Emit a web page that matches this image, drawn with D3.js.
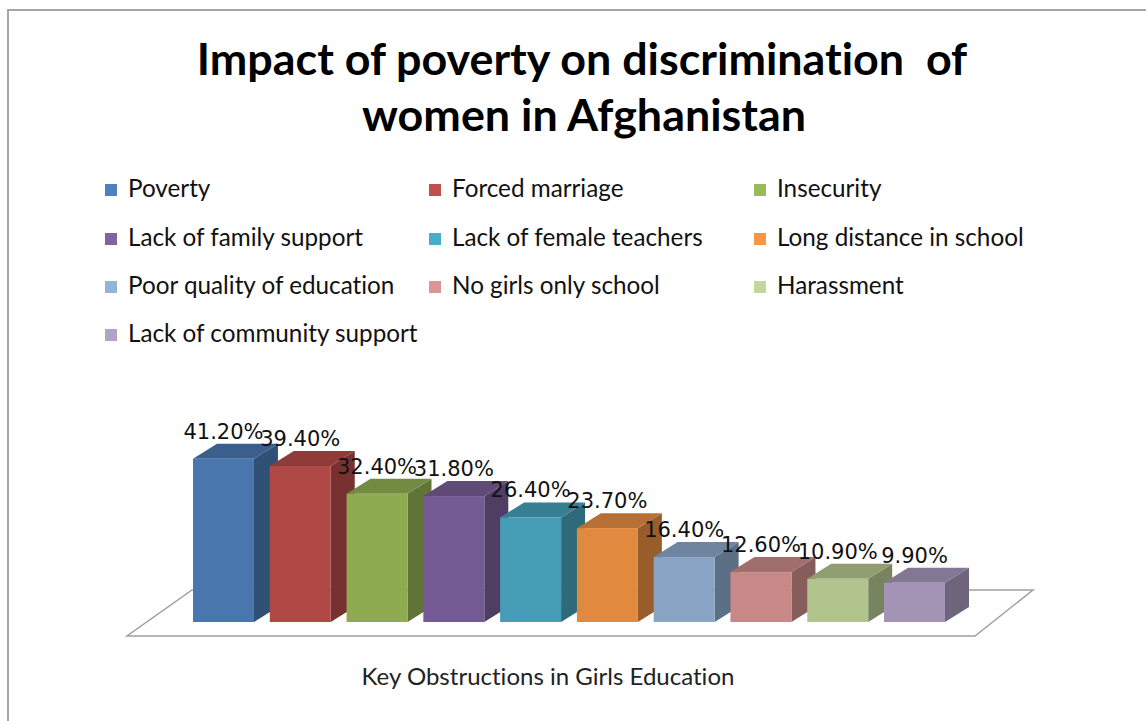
<!DOCTYPE html>
<html>
<head>
<meta charset="utf-8">
<script src="https://cdn.jsdelivr.net/npm/d3@7"></script>
<style>
  html, body { margin: 0; padding: 0; background: #fff; }
  svg { display: block; }
  text { white-space: pre; font-variant-ligatures: none; font-feature-settings: "liga" 0, "clig" 0; }
</style>
</head>
<body>
<svg id="chart" width="1146" height="721"></svg>
<script>
// ---- data ----
const titleLines = ["Impact of poverty on discrimination  of", "women in Afghanistan"];
const categories = ["Poverty", "Forced marriage", "Insecurity", "Lack of family support",
  "Lack of female teachers", "Long distance in school", "Poor quality of education",
  "No girls only school", "Harassment", "Lack of community support"];
const values = [41.2, 39.4, 32.4, 31.8, 26.4, 23.7, 16.4, 12.6, 10.9, 9.9];
const colors = ["#4F81BD", "#C0504D", "#9BBB59", "#8064A2", "#4BACC6",
  "#F79646", "#95B3D7", "#D99694", "#C3D69B", "#B2A2C7"];
const axisTitle = "Key Obstructions in Girls Education";

// ---- layout ----
const svg = d3.select("#chart");
const depthX = 24, depthY = -15;
const baseY = 622;

const x = d3.scaleBand().domain(categories).range([193, 945]).paddingInner(0.206).paddingOuter(0);
const y = d3.scaleLinear().domain([0, 45]).range([baseY, baseY - 45 * 3.96]);

function fit(sel, target) {
  const w = sel.node().getComputedTextLength();
  const fs = parseFloat(sel.attr("font-size"));
  sel.attr("font-size", fs * target / w);
}

// frame
svg.append("rect").attr("x", 8).attr("y", 10).attr("width", 1200).attr("height", 800)
  .attr("fill", "#fff").attr("stroke", "#a6a6a6").attr("stroke-width", 2);

// title
const titleG = svg.append("g");
const t1 = titleG.append("text").attr("x", 582).attr("y", 75).attr("text-anchor", "middle")
  .attr("font-family", "Lato, 'Open Sans', sans-serif").attr("font-weight", "bold")
  .attr("font-size", 40).attr("fill", "#000").text(titleLines[0]);
const t2 = titleG.append("text").attr("x", 584).attr("y", 131).attr("text-anchor", "middle")
  .attr("font-family", "Lato, 'Open Sans', sans-serif").attr("font-weight", "bold")
  .attr("font-size", 40).attr("fill", "#000").text(titleLines[1]);
fit(t2, 444);
t1.attr("font-size", t2.attr("font-size"));

// legend
const colX = [105, 429, 754];
const rowY = [190, 239, 287, 335];
const legend = svg.append("g");
const legItems = legend.selectAll("g").data(categories).join("g")
  .attr("transform", (d, i) => `translate(${colX[i % 3]},${rowY[Math.floor(i / 3)]})`);
legItems.append("rect").attr("x", 0).attr("y", -6).attr("width", 12).attr("height", 12)
  .attr("fill", (d, i) => colors[i]);
const legTexts = legItems.append("text").attr("x", 23).attr("y", 7)
  .attr("font-family", "Lato, 'Open Sans', sans-serif").attr("font-size", 20).attr("fill", "#111")
  .text(d => d);
{
  const ref = legTexts.filter(d => d === "Lack of family support");
  fit(ref, 235);
  legTexts.attr("font-size", ref.attr("font-size"));
}

// floor
const floorPts = [[127, 636], [975, 636], [1033, 590], [192, 590]];
svg.append("polygon").attr("points", floorPts.map(p => p.join(",")).join(" "))
  .attr("fill", "#fff").attr("stroke", "#a0a0a0").attr("stroke-width", 1.5);

// bars
const bars = svg.append("g");
categories.forEach((c, i) => {
  const x0 = x(c), x1 = x0 + x.bandwidth();
  const yt = y(values[i]), yb = y(0);
  const base = d3.color(colors[i]);
  const g = bars.append("g");
  g.append("polygon").attr("points", [[x1, yb], [x1 + depthX, yb + depthY], [x1 + depthX, yt + depthY], [x1, yt]].map(p => p.join(",")).join(" "))
    .attr("fill", base.darker(1.35));
  g.append("polygon").attr("points", [[x0, yt], [x1, yt], [x1 + depthX, yt + depthY], [x0 + depthX, yt + depthY]].map(p => p.join(",")).join(" "))
    .attr("fill", base.darker(0.85));
  g.append("rect").attr("x", x0).attr("y", yt).attr("width", x.bandwidth()).attr("height", yb - yt)
    .attr("fill", base.darker(0.25));
});

// data labels
svg.append("g").selectAll("text").data(categories).join("text")
  .attr("x", d => x(d) + x.bandwidth() / 2)
  .attr("y", (d, i) => y(values[i]) + depthY - 5)
  .attr("text-anchor", "middle")
  .attr("font-family", "'DejaVu Sans', Verdana, sans-serif").attr("font-size", 21)
  .attr("fill", "#111")
  .text((d, i) => d3.format(".2f")(values[i]) + "%");

// axis title
const at = svg.append("text").attr("x", 548).attr("y", 685).attr("text-anchor", "middle")
  .attr("font-family", "Lato, 'Open Sans', sans-serif").attr("font-size", 20).attr("fill", "#222")
  .text(axisTitle);
fit(at, 373);
</script>
</body>
</html>
